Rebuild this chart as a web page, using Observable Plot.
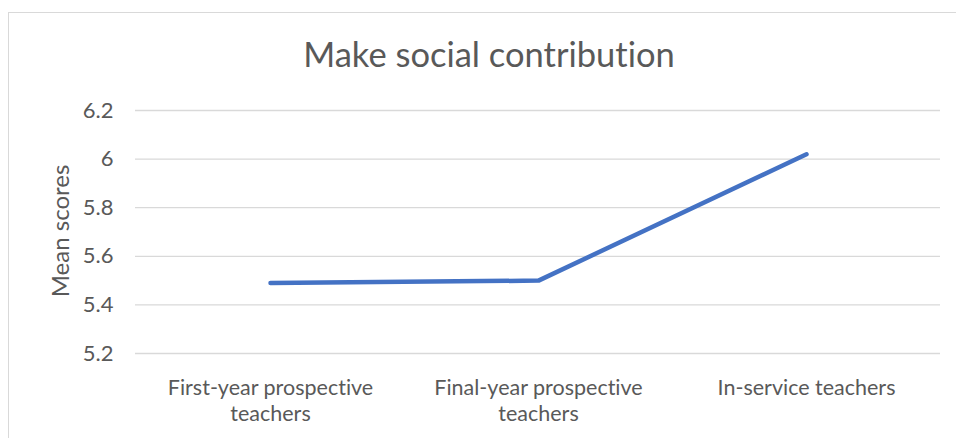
<!DOCTYPE html>
<html>
<head>
<meta charset="utf-8">
<script src="https://cdn.jsdelivr.net/npm/d3@7"></script>
<script src="https://cdn.jsdelivr.net/npm/@observablehq/plot@0.6"></script>
<style>
  html, body { margin: 0; padding: 0; background: #fff; }
  body { width: 956px; height: 438px; position: relative; overflow: hidden; font-family: Lato, "Open Sans", sans-serif; font-variant-ligatures: none; font-feature-settings: "liga" 0, "clig" 0; }
  #frame { position: absolute; left: 8px; top: 12px; width: 960px; height: 460px; border: 1px solid #d9d9d9; box-sizing: border-box; z-index: 5; pointer-events: none; }
  #title { position: absolute; left: 22px; top: 0; width: 934px; height: 90px; text-align: center; color: #595959; font-size: 34.5px; line-height: 1; padding-top: 37px; box-sizing: border-box; white-space: nowrap; }
  #ylabel { position: absolute; left: 60px; top: 231px; transform: translate(-50%, -50%) rotate(-90deg); color: #595959; font-size: 24px; line-height: 1; white-space: nowrap; z-index: 4; }
  #chart { position: absolute; left: 0; top: 90px; }
  #chart svg text { font-variant-ligatures: none; font-feature-settings: "liga" 0, "clig" 0; }
</style>
</head>
<body>
<div id="frame"></div>
<div id="title">Make social contribution</div>
<div id="chart"></div>
<div id="ylabel">Mean scores</div>
<script>
const categories = ["First-year prospective teachers", "Final-year prospective teachers", "In-service teachers"];
const tickLabels = ["First-year prospective\nteachers", "Final-year prospective\nteachers", "In-service teachers"];
const meanScores = [5.49, 5.50, 6.02];
const yTicks = [5.2, 5.4, 5.6, 5.8, 6.0, 6.2];

const data = categories.map((c, i) => ({group: c, value: meanScores[i]}));
const textColor = "#595959";

const plot = Plot.plot({
  width: 956,
  height: 348,
  marginLeft: 135,
  marginRight: 16,
  marginTop: 20,
  marginBottom: 85,
  style: {fontFamily: "Lato, 'Open Sans', sans-serif", color: textColor, background: "transparent"},
  x: {type: "point", domain: categories, padding: 0.5, label: null},
  y: {domain: [5.2, 6.2], label: null},
  marks: [
    Plot.gridY(yTicks, {stroke: "#d9d9d9", strokeOpacity: 1, strokeWidth: 1.3}),
    Plot.axisY(yTicks, {tickSize: 0, tickPadding: 22, fontSize: 22, fill: textColor, label: null,
      tickFormat: d => String(Math.round(d * 10) / 10)}),
    Plot.axisX({tickSize: 0, tickPadding: 23, fontSize: 21.5, lineHeight: 1.2, fill: textColor, label: null,
      tickFormat: d => tickLabels[categories.indexOf(d)]}),
    Plot.line(data, {x: "group", y: "value", stroke: "#4472c4", strokeWidth: 4.5, strokeLinecap: "round", strokeLinejoin: "round"})
  ]
});
document.getElementById("chart").appendChild(plot);
</script>
</body>
</html>
